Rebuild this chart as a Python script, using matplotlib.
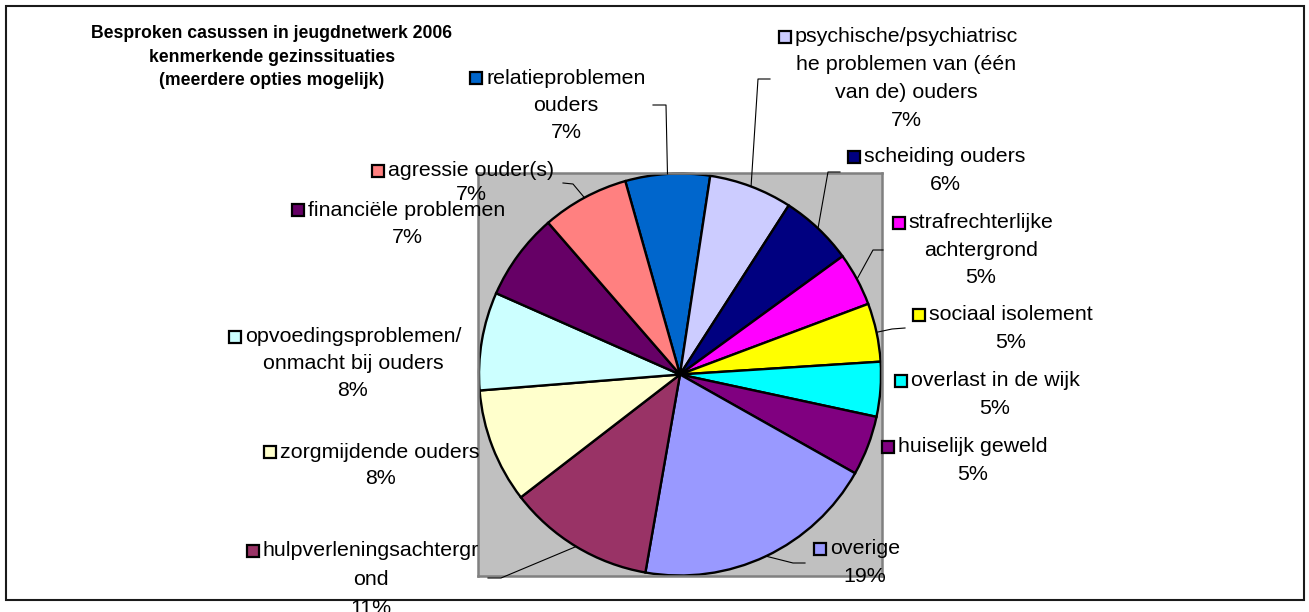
import matplotlib
matplotlib.use("Agg")
import matplotlib.pyplot as plt
from matplotlib.patches import Rectangle
from matplotlib.lines import Line2D
import numpy as np

W, H = 1309, 612

categories = [
    "relatieproblemen\nouders",
    "psychische/psychiatrisc\nhe problemen van (één\nvan de) ouders",
    "scheiding ouders",
    "strafrechterlijke\nachtergrond",
    "sociaal isolement",
    "overlast in de wijk",
    "huiselijk geweld",
    "overige",
    "hulpverleningsachtergr\nond",
    "zorgmijdende ouders",
    "opvoedingsproblemen/\nonmacht bij ouders",
    "financiële problemen",
    "agressie ouder(s)",
]
shares = [6.8, 6.7, 5.9, 4.3, 4.7, 4.4, 4.8, 19.6, 11.8, 9.2, 7.9, 7.0, 7.0]
pct_labels = ["7%", "7%", "6%", "5%", "5%", "5%", "5%", "19%", "11%", "8%", "8%", "7%", "7%"]
colors = ["#0066CC", "#CCCCFF", "#000080", "#FF00FF", "#FFFF00", "#00FFFF", "#800080",
          "#9999FF", "#993366", "#FFFFCC", "#CCFFFF", "#660066", "#FF8080"]
title = ["Besproken casussen in jeugdnetwerk 2006",
         "kenmerkende gezinssituaties",
         "(meerdere opties mogelijk)"]

# label placement in pixels: center x, y of first line, line step
label_pos = [(566, 78, 27), (906.5, 37, 27.7), (945, 157, 28), (981, 223, 27.3),
             (1011, 315, 28), (995, 381, 28), (973, 447, 27.5), (865, 549, 28),
             (371, 551, 28.5), (380, 452, 27), (353, 337, 26.7), (407, 210, 28),
             (471, 171, 24)]
# leader lines: point at label, elbow; the last point is the wedge edge
leaders = {0: [(653, 105), (666, 105)], 1: [(770, 79), (758, 79)],
           2: [(840, 172), (828, 172)], 3: [(883, 250), (873, 250)],
           4: [(905, 328), (892, 329)], 7: [(805, 563), (793, 563)],
           8: [(488, 578), (501, 578)], 12: [(563, 183), (573, 184)]}

FONT = "Liberation Sans"
FS = 15.4


def fx(x):
    return x / W


def fy(y):
    return 1 - y / H


fig = plt.figure(figsize=(W / 100, H / 100), dpi=100)
fig.patch.set_facecolor("white")

# outer chart border
fig.add_artist(Rectangle((fx(6), fy(600)), fx(1298), 594 / H, transform=fig.transFigure,
                         fill=False, edgecolor="#1a1a1a", linewidth=1.5))

# plot area (grey square)
ax = fig.add_axes([fx(478), fy(576), fx(404), 403 / H])
wedges, _ = ax.pie(shares, colors=colors, startangle=105.8, counterclock=False,
                   radius=1.0, wedgeprops=dict(edgecolor="black", linewidth=1.7))
ax.set_aspect("auto")
ax.set_xlim(-1.005, 1.005)
ax.set_ylim(-1.0025, 1.0025)
ax.set_frame_on(True)
ax.set_facecolor("#C0C0C0")
ax.set_xticks([])
ax.set_yticks([])
for sp in ax.spines.values():
    sp.set_edgecolor("#808080")
    sp.set_linewidth(1.8)

# title
for i, line in enumerate(title):
    fig.text(fx(271.7), fy(33.5 + i * 23.5), line, ha="center", va="center",
             fontsize=12.7, fontweight="bold", family=FONT)

# data labels
first_lines = []
for i, (cat, pct) in enumerate(zip(categories, pct_labels)):
    cx, y0, step = label_pos[i]
    lines = cat.split("\n") + [pct]
    for j, line in enumerate(lines):
        t = fig.text(fx(cx), fy(y0 + j * step), line, ha="center", va="center",
                     fontsize=FS, family=FONT, zorder=5)
        if j == 0:
            first_lines.append(t)

fig.canvas.draw()
renderer = fig.canvas.get_renderer()
to_fig = fig.transFigure.inverted()

# legend keys in front of the first line
for i, t in enumerate(first_lines):
    bb = t.get_window_extent(renderer)
    y0 = label_pos[i][1]
    size = 12
    x_right = bb.x0 - 4
    fig.add_artist(Rectangle((fx(x_right - size), fy(y0 + size / 2)), size / W, size / H,
                             transform=fig.transFigure, facecolor=colors[i],
                             edgecolor="black", linewidth=1.6, zorder=6))

# leader lines
for i, pts in leaders.items():
    w = wedges[i]
    mid = np.deg2rad((w.theta1 + w.theta2) / 2)
    ex, ey = to_fig.transform(ax.transData.transform((np.cos(mid), np.sin(mid))))
    xs = [fx(p[0]) for p in pts] + [ex]
    ys = [fy(p[1]) for p in pts] + [ey]
    fig.add_artist(Line2D(xs, ys, transform=fig.transFigure, color="black",
                          linewidth=0.8, zorder=4))

fig.savefig("out.png", dpi=100)
